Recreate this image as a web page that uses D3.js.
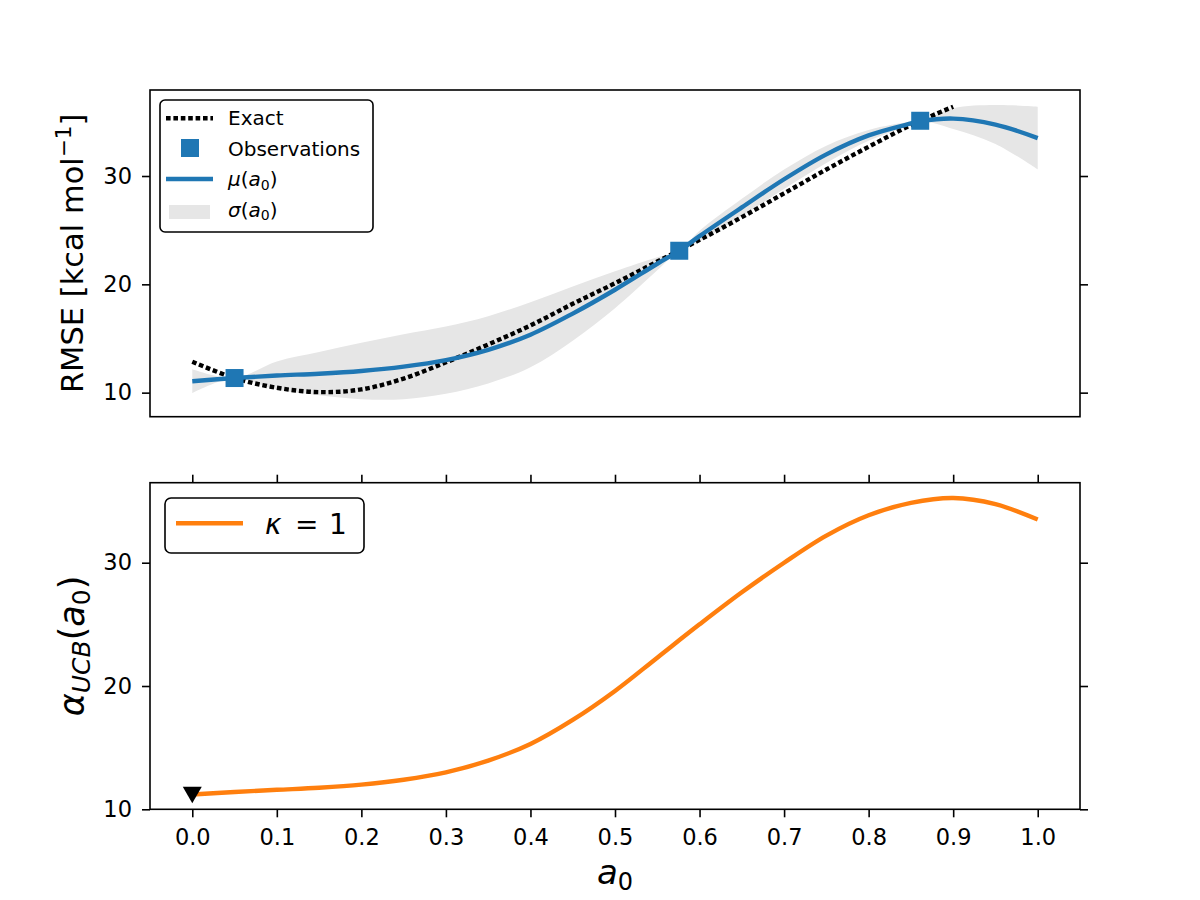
<!DOCTYPE html>
<html>
<head>
<meta charset="utf-8">
<script src="https://cdn.jsdelivr.net/npm/d3@7"></script>
<style>
  body { margin: 0; background: #fff; }
  svg { font-family: "DejaVu Sans", sans-serif; }
</style>
</head>
<body>
<svg id="chart" width="1200" height="900"></svg>
<script>
// GP surrogate on a grid of a0 (observations included so the band pinches there)
const a0Grid = [0, 0.05, 0.1, 0.15, 0.2, 0.25, 0.3, 0.35, 0.4, 0.45, 0.5, 0.55, 0.576, 0.6, 0.65, 0.7, 0.75, 0.8, 0.85, 0.861, 0.9, 0.95, 1.0];
const muValues = [11.05, 11.35, 11.58, 11.75, 12.0, 12.4, 13.0, 13.95, 15.35, 17.3, 19.5, 21.9, 23.1, 24.45, 27.1, 29.7, 32.0, 33.75, 34.85, 35.05, 35.3, 34.75, 33.5];
const sigmaValues = [1.1, 0.0, 1.3, 2.0, 2.6, 3.0, 3.1, 3.1, 3.0, 2.5, 1.7, 0.6, 0.0, 0.5, 0.8, 0.9, 0.8, 0.5, 0.15, 0.0, 0.95, 1.8, 2.9];

// exact RMSE curve
const exactX = [0, 0.05, 0.1, 0.15, 0.2, 0.25, 0.3, 0.35, 0.4, 0.45, 0.5, 0.55, 0.6, 0.65, 0.7, 0.75, 0.8, 0.85, 0.9];
const exactValues = [12.85, 11.35, 10.45, 10.05, 10.3, 11.3, 12.8, 14.45, 16.2, 18.2, 20.1, 22.1, 24.1, 26.2, 28.4, 30.6, 32.7, 34.7, 36.4];

// observations
const obsX = [0.05, 0.576, 0.861];
const obsY = [11.35, 23.1, 35.1];

// acquisition function, kappa = 1
const ucbX = [0, 0.05, 0.1, 0.15, 0.2, 0.25, 0.3, 0.35, 0.4, 0.45, 0.5, 0.55, 0.6, 0.65, 0.7, 0.75, 0.8, 0.85, 0.9, 0.95, 1.0];
const ucbValues = [11.2, 11.4, 11.58, 11.75, 12.0, 12.4, 13.0, 13.95, 15.3, 17.25, 19.6, 22.3, 25.0, 27.6, 30.0, 32.2, 33.85, 34.85, 35.25, 34.75, 33.5];

// next point marker
const nextX = [0];
const nextY = [11.16];

const xTicks = [0, 0.1, 0.2, 0.3, 0.4, 0.5, 0.6, 0.7, 0.8, 0.9, 1.0];
const yTicksTop = [10, 20, 30];
const yTicksBottom = [10, 20, 30];

const BLUE = '#1f77b4', ORANGE = '#ff7f0e', BAND = '#e6e6e6';

const svg = d3.select('#chart');

const left = 150, right = 1080;
const top1 = 90, bot1 = 416.7;
const top2 = 482.7, bot2 = 809.3;

const x = d3.scaleLinear().domain([-0.05, 1.05]).range([left, right]);
const yTop = d3.scaleLinear().domain([7.78, 37.94]).range([bot1, top1]);
const yBot = d3.scaleLinear().domain([10, 36.49]).range([bot2, top2]);

const smooth = d3.curveCatmullRom.alpha(0.5);

function styleAxis(sel) {
  sel.select('.domain').remove();
  sel.selectAll('.tick line').attr('stroke', '#000').attr('stroke-width', 1.6);
  sel.selectAll('.tick text')
    .attr('fill', '#000')
    .attr('font-size', 22.5)
    .attr('font-family', 'DejaVu Sans');
}

// clip paths
const defs = svg.append('defs');
defs.append('clipPath').attr('id', 'clipTop')
  .append('rect').attr('x', left).attr('y', top1).attr('width', right - left).attr('height', bot1 - top1);
defs.append('clipPath').attr('id', 'clipBot')
  .append('rect').attr('x', left).attr('y', top2).attr('width', right - left).attr('height', bot2 - top2);

// ---------- top panel ----------
const gTop = svg.append('g').attr('clip-path', 'url(#clipTop)');

const gp = a0Grid.map((a, i) => ({ a: a, mu: muValues[i], s: sigmaValues[i] }));

gTop.append('path')
  .datum(gp)
  .attr('fill', BAND)
  .attr('d', d3.area()
    .x(d => x(d.a))
    .y0(d => yTop(d.mu - d.s))
    .y1(d => yTop(d.mu + d.s))
    .curve(smooth));

gTop.append('path')
  .datum(exactX.map((a, i) => [a, exactValues[i]]))
  .attr('fill', 'none')
  .attr('stroke', '#000')
  .attr('stroke-width', 4.4)
  .attr('stroke-dasharray', '4.6,2.8')
  .attr('d', d3.line().x(d => x(d[0])).y(d => yTop(d[1])).curve(smooth));

gTop.append('path')
  .datum(gp)
  .attr('fill', 'none')
  .attr('stroke', BLUE)
  .attr('stroke-width', 4.4)
  .attr('d', d3.line().x(d => x(d.a)).y(d => yTop(d.mu)).curve(smooth));

gTop.selectAll('rect.obs')
  .data(obsX.map((a, i) => [a, obsY[i]]))
  .enter()
  .append('rect')
  .attr('class', 'obs')
  .attr('x', d => x(d[0]) - 9)
  .attr('y', d => yTop(d[1]) - 9)
  .attr('width', 18)
  .attr('height', 18)
  .attr('fill', BLUE);

svg.append('g').attr('transform', 'translate(' + left + ',0)')
  .call(d3.axisLeft(yTop).tickValues(yTicksTop).tickSize(8).tickPadding(10).tickFormat(d3.format('d')))
  .call(styleAxis);
svg.append('g').attr('transform', 'translate(' + right + ',0)')
  .call(d3.axisRight(yTop).tickValues(yTicksTop).tickSize(8).tickFormat(''))
  .call(styleAxis);

svg.append('rect')
  .attr('x', left).attr('y', top1).attr('width', right - left).attr('height', bot1 - top1)
  .attr('fill', 'none').attr('stroke', '#000').attr('stroke-width', 1.6);

// top y label
const yl1 = svg.append('text')
  .attr('transform', 'translate(83,' + ((top1 + bot1) / 2) + ') rotate(-90)')
  .attr('text-anchor', 'middle')
  .attr('font-size', 30.5);
yl1.append('tspan').text('RMSE [kcal mol');
yl1.append('tspan').attr('font-size', 21.5).attr('dy', -12).text('\u22121');
yl1.append('tspan').attr('dy', 12).text(']');

// top legend
const lg1 = svg.append('g');
lg1.append('rect')
  .attr('x', 160).attr('y', 100).attr('width', 213).attr('height', 132)
  .attr('rx', 5).attr('fill', '#fff').attr('stroke', '#000').attr('stroke-width', 1.6);
lg1.append('line').attr('x1', 166).attr('x2', 213).attr('y1', 118.3).attr('y2', 118.3)
  .attr('stroke', '#000').attr('stroke-width', 4.4).attr('stroke-dasharray', '4.6,2.8');
lg1.append('rect').attr('x', 181).attr('y', 139).attr('width', 18).attr('height', 18).attr('fill', BLUE);
lg1.append('line').attr('x1', 166).attr('x2', 213).attr('y1', 179).attr('y2', 179)
  .attr('stroke', BLUE).attr('stroke-width', 4.4);
lg1.append('rect').attr('x', 169).attr('y', 205).attr('width', 41).attr('height', 14).attr('fill', BAND);

lg1.append('text').attr('x', 228).attr('y', 124.5).attr('font-size', 20).text('Exact');
lg1.append('text').attr('x', 228).attr('y', 155.5).attr('font-size', 20).text('Observations');
const tMu = lg1.append('text').attr('x', 228).attr('y', 186).attr('font-size', 20);
tMu.append('tspan').attr('font-style', 'italic').text('\u03bc');
tMu.append('tspan').text('(');
tMu.append('tspan').attr('font-style', 'italic').text('a');
tMu.append('tspan').attr('font-size', 14).attr('dy', 3.5).text('0');
tMu.append('tspan').attr('dy', -3.5).text(')');
const tSig = lg1.append('text').attr('x', 228).attr('y', 216.5).attr('font-size', 20);
tSig.append('tspan').attr('font-style', 'italic').text('\u03c3');
tSig.append('tspan').text('(');
tSig.append('tspan').attr('font-style', 'italic').text('a');
tSig.append('tspan').attr('font-size', 14).attr('dy', 3.5).text('0');
tSig.append('tspan').attr('dy', -3.5).text(')');

// ---------- bottom panel ----------
const gBot = svg.append('g').attr('clip-path', 'url(#clipBot)');

gBot.append('path')
  .datum(ucbX.map((a, i) => [a, ucbValues[i]]))
  .attr('fill', 'none')
  .attr('stroke', ORANGE)
  .attr('stroke-width', 4.4)
  .attr('d', d3.line().x(d => x(d[0])).y(d => yBot(d[1])).curve(smooth));

svg.selectAll('path.next')
  .data(nextX.map((a, i) => [a, nextY[i]]))
  .enter()
  .append('path')
  .attr('class', 'next')
  .attr('transform', d => 'translate(' + x(d[0]) + ',' + yBot(d[1]) + ')')
  .attr('d', 'M-9.5,-8.3L9.5,-8.3L0,8.3Z')
  .attr('fill', '#000');

svg.append('g').attr('transform', 'translate(' + left + ',0)')
  .call(d3.axisLeft(yBot).tickValues(yTicksBottom).tickSize(8).tickPadding(10).tickFormat(d3.format('d')))
  .call(styleAxis);
svg.append('g').attr('transform', 'translate(' + right + ',0)')
  .call(d3.axisRight(yBot).tickValues(yTicksBottom).tickSize(8).tickFormat(''))
  .call(styleAxis);
svg.append('g').attr('transform', 'translate(0,' + bot2 + ')')
  .call(d3.axisBottom(x).tickValues(xTicks).tickSize(8).tickPadding(12).tickFormat(d3.format('.1f')))
  .call(styleAxis);
svg.append('g').attr('transform', 'translate(0,' + top2 + ')')
  .call(d3.axisTop(x).tickValues(xTicks).tickSize(8).tickFormat(''))
  .call(styleAxis);

svg.append('rect')
  .attr('x', left).attr('y', top2).attr('width', right - left).attr('height', bot2 - top2)
  .attr('fill', 'none').attr('stroke', '#000').attr('stroke-width', 1.6);

// bottom y label
const yl2 = svg.append('text')
  .attr('transform', 'translate(83.5,' + ((top2 + bot2) / 2) + ') rotate(-90)')
  .attr('text-anchor', 'middle')
  .attr('font-size', 35);
yl2.append('tspan').attr('font-style', 'italic').text('\u03b1');
yl2.append('tspan').attr('font-style', 'italic').attr('font-size', 25).attr('dy', 6).text('UCB');
yl2.append('tspan').attr('dy', -6).text('(');
yl2.append('tspan').attr('font-style', 'italic').text('a');
yl2.append('tspan').attr('font-size', 25).attr('dy', 6).text('0');
yl2.append('tspan').attr('dy', -6).text(')');

// x label
const xl = svg.append('text')
  .attr('x', (left + right) / 2).attr('y', 884)
  .attr('text-anchor', 'middle')
  .attr('font-size', 34);
xl.append('tspan').attr('font-style', 'italic').text('a');
xl.append('tspan').attr('font-size', 24).attr('dy', 6).text('0');

// bottom legend
const lg2 = svg.append('g');
lg2.append('rect')
  .attr('x', 165).attr('y', 498).attr('width', 199).attr('height', 55)
  .attr('rx', 6).attr('fill', '#fff').attr('stroke', '#000').attr('stroke-width', 1.6);
lg2.append('line').attr('x1', 176).attr('x2', 243).attr('y1', 523.3).attr('y2', 523.3)
  .attr('stroke', ORANGE).attr('stroke-width', 4.4);
const tK = lg2.append('g').attr('font-size', 28);
tK.append('text').attr('x', 265).attr('y', 534).attr('font-style', 'italic').text('\u03ba');
tK.append('text').attr('x', 295).attr('y', 534).text('=');
tK.append('text').attr('x', 329).attr('y', 534).text('1');
</script>
</body>
</html>
